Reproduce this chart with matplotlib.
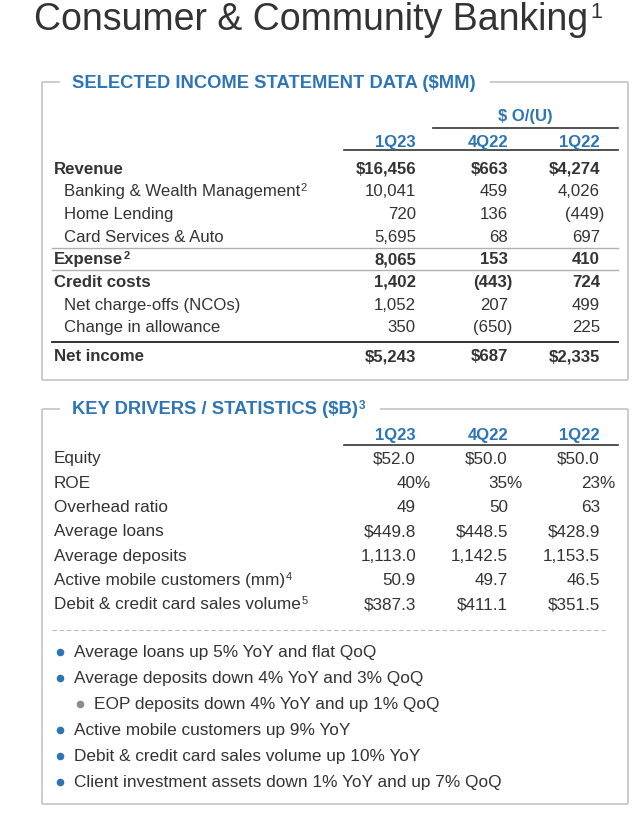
import matplotlib
matplotlib.use('Agg')
import matplotlib.pyplot as plt

plt.rcParams['font.family'] = ['Liberation Sans', 'DejaVu Sans']

# selected income statement data ($MM)
income_labels = ['Revenue', 'Banking & Wealth Management', 'Home Lending',
                 'Card Services & Auto', 'Expense', 'Credit costs',
                 'Net charge-offs (NCOs)', 'Change in allowance', 'Net income']
income_sup = ['', '2', '', '', '2', '', '', '', '']
income_bold = [True, False, False, False, True, True, False, False, True]
income_1q23 = ['$16,456', '10,041', '720', '5,695', '8,065', '1,402', '1,052', '350', '$5,243']
income_vs_4q22 = ['$663', '459', '136', '68', '153', '(443)', '207', '(650)', '$687']
income_vs_1q22 = ['$4,274', '4,026', '(449)', '697', '410', '724', '499', '225', '$2,335']

# key drivers / statistics ($B)
driver_labels = ['Equity', 'ROE', 'Overhead ratio', 'Average loans', 'Average deposits',
                 'Active mobile customers (mm)', 'Debit & credit card sales volume']
driver_sup = ['', '', '', '', '', '4', '5']
driver_1q23 = ['$52.0', '40%', '49', '$449.8', '1,113.0', '50.9', '$387.3']
driver_4q22 = ['$50.0', '35%', '50', '$448.5', '1,142.5', '49.7', '$411.1']
driver_1q22 = ['$50.0', '23%', '63', '$428.9', '1,153.5', '46.5', '$351.5']

periods = ['1Q23', '4Q22', '1Q22']

bullet_text = ['Average loans up 5% YoY and flat QoQ',
               'Average deposits down 4% YoY and 3% QoQ',
               'EOP deposits down 4% YoY and up 1% QoQ',
               'Active mobile customers up 9% YoY',
               'Debit & credit card sales volume up 10% YoY',
               'Client investment assets down 1% YoY and up 7% QoQ']
bullet_level = [0, 0, 1, 0, 0, 0]

DARK = '#333333'
BLUE = '#2e75b6'
BOX = '#c8c8c8'

fig = plt.figure(figsize=(6.39, 8.2), dpi=100)
ax = fig.add_axes([0, 0, 1, 1])
ax.set_xlim(0, 639)
ax.set_ylim(820, 0)
ax.axis('off')
renderer = fig.canvas.get_renderer()


def right_edge(t):
    bb = t.get_window_extent(renderer)
    x1, ytop = ax.transData.inverted().transform((bb.x1, bb.y1))
    return x1, ytop


def sup(t, s, size, dx=1, dy=0, **kw):
    x1, ytop = right_edge(t)
    return ax.text(x1 + dx, ytop + dy, s, fontsize=size, va='top', ha='left', color=kw.pop('color', DARK), **kw)


def num(x, y, s, **kw):
    # closing paren and percent sign hang past the column edge, like the slide
    if s.endswith(')'):
        x += 4
    elif s.endswith('%'):
        x += 15
    ax.text(x, y, s, ha='right', va='center', **kw)


def box(top, bottom, header, header_sup):
    t = ax.text(72, top, header, fontsize=13.2, fontweight='bold', color=BLUE, va='center')
    if header_sup:
        t = sup(t, header_sup, 8.5, dx=1, dy=-1, color=BLUE, fontweight='bold')
    x1, _ = right_edge(t)
    kw = dict(color=BOX, lw=1.3, solid_capstyle='butt')
    ax.plot([42, 60], [top, top], **kw)
    ax.plot([x1 + 14, 628], [top, top], **kw)
    ax.plot([42, 42], [top, bottom], **kw)
    ax.plot([628, 628], [top, bottom], **kw)
    ax.plot([42, 628], [bottom, bottom], **kw)


# title
t = ax.text(34, 20, 'Consumer & Community Banking', fontsize=27, color=DARK, va='center')
sup(t, '1', 15.5, dx=2, dy=0)

cols = [416, 508, 600]

# ---- income statement box
box(83, 381, 'SELECTED INCOME STATEMENT DATA ($MM)', '')
ax.text(525, 117, '$ O/(U)', fontsize=12, fontweight='bold', color=BLUE, ha='center', va='center')
ax.plot([433, 618], [129, 129], color=DARK, lw=1.2)
for x, p in zip(cols, periods):
    ax.text(x, 142, p, fontsize=12, fontweight='bold', color=BLUE, ha='right', va='center')
ax.plot([344, 618], [151, 151], color=DARK, lw=1.2)

for i, lab in enumerate(income_labels):
    y = 169 + i * 22.7 + (6 if i == len(income_labels) - 1 else 0)
    w = 'bold' if income_bold[i] else 'normal'
    lx = 54 if income_bold[i] else 64
    t = ax.text(lx, y, lab, fontsize=12.1, fontweight=w, color=DARK, va='center')
    if income_sup[i]:
        sup(t, income_sup[i], 8, dx=0.5, dy=-1, fontweight=w)
    for x, vals in zip(cols, [income_1q23, income_vs_4q22, income_vs_1q22]):
        num(x, y, vals[i], fontsize=12.1, fontweight=w, color=DARK)

ax.plot([52, 618], [249, 249], color='#b0b0b0', lw=1)
ax.plot([52, 618], [271, 271], color='#b0b0b0', lw=1)
ax.plot([52, 618], [343, 343], color=DARK, lw=1.4)

# ---- key drivers box
box(410, 805, 'KEY DRIVERS / STATISTICS ($B)', '3')
for x, p in zip(cols, periods):
    ax.text(x, 436, p, fontsize=12, fontweight='bold', color=BLUE, ha='right', va='center')
ax.plot([344, 618], [446, 446], color=DARK, lw=1.2)

for i, lab in enumerate(driver_labels):
    y = 459 + i * 24.3
    t = ax.text(54, y, lab, fontsize=12.3, color=DARK, va='center')
    if driver_sup[i]:
        sup(t, driver_sup[i], 8, dx=0.5, dy=-1)
    for x, vals in zip(cols, [driver_1q23, driver_4q22, driver_1q22]):
        num(x, y, vals[i], fontsize=12.3, color=DARK)

ax.plot([52, 605], [631, 631], color='#bbbbbb', lw=0.8, linestyle=(0, (4, 2.5)))

for i, (txt, lvl) in enumerate(zip(bullet_text, bullet_level)):
    y = 653 + i * 25.9
    bx = 60 if lvl == 0 else 80
    ax.plot(bx, y, 'o', markersize=5.5, color=BLUE if lvl == 0 else '#8c8c8c', markeredgewidth=0)
    ax.text(bx + 14, y, txt, fontsize=12.4, color=DARK, va='center')

fig.savefig('out.png', dpi=100)
